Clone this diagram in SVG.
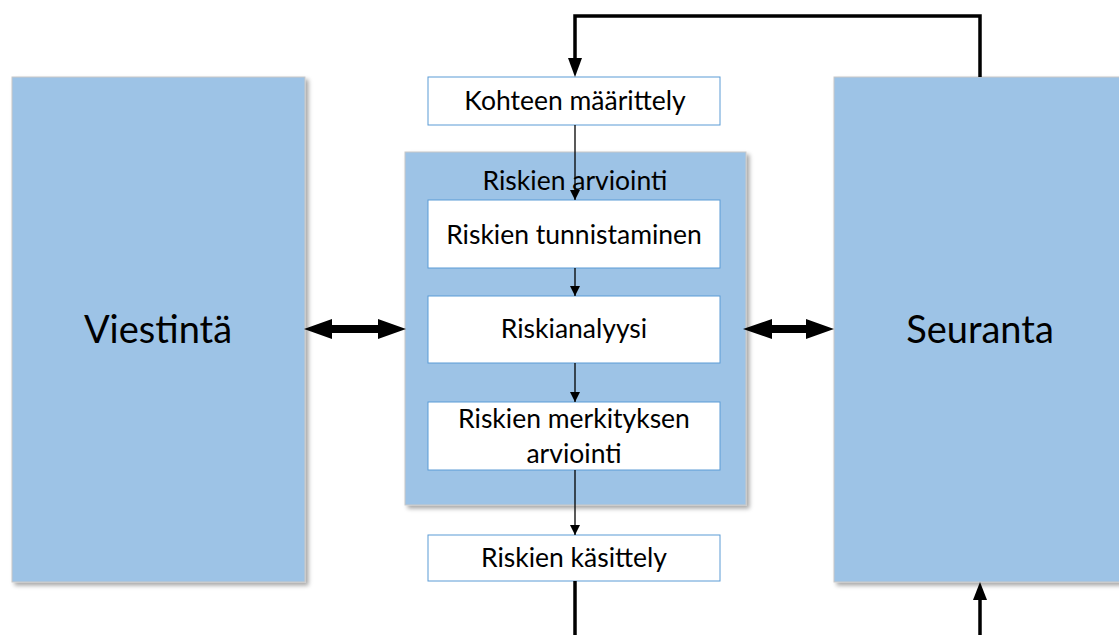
<svg xmlns="http://www.w3.org/2000/svg" width="1119" height="635" viewBox="0 0 1119 635">
<style>
.big{fill:#9DC3E6;stroke:#C8C8C8;stroke-width:1}
.wbox{fill:#FFFFFF;stroke:#5B9BD5;stroke-width:1}
.t{font-family:Lato,"Liberation Sans",sans-serif;fill:#000;text-anchor:middle}
.s{font-size:26.5px}
.l{font-size:38px}
.thin{stroke:#000;stroke-width:1.3;fill:none}
.thick{stroke:#000;stroke-width:3.5;fill:none}
</style>
<defs>
<filter id="sh" x="-10%" y="-10%" width="130%" height="130%">
<feDropShadow dx="3" dy="3" stdDeviation="2" flood-color="#000" flood-opacity="0.35"/>
</filter>
<marker id="ah" markerWidth="12" markerHeight="12" refX="10" refY="5" orient="auto" markerUnits="userSpaceOnUse">
<path d="M0,0 L10,5 L0,10 z" fill="#000"/>
</marker>
</defs>
<rect width="1119" height="635" fill="#FFFFFF"/>

<g id="viestinta">
<rect class="big" x="12" y="77" width="293" height="505" filter="url(#sh)"/>
<text class="t l" x="158" y="343">Viestintä</text>
</g>

<g id="seuranta">
<rect class="big" x="834" y="77" width="300" height="505" filter="url(#sh)"/>
<text class="t l" x="980" y="343">Seuranta</text>
</g>

<g id="riskien-arviointi">
<rect class="big" x="405" y="152" width="341" height="353" stroke="#B0B0B0" filter="url(#sh)"/>
<text class="t s" x="575" y="190">Riskien arviointi</text>
</g>

<g id="kohteen-maarittely">
<rect class="wbox" x="428" y="77" width="292" height="48"/>
<text class="t s" x="575" y="110">Kohteen määrittely</text>
</g>

<g id="riskien-tunnistaminen">
<rect class="wbox" x="428" y="200" width="292" height="68"/>
<text class="t s" x="574" y="244">Riskien tunnistaminen</text>
</g>

<g id="riskianalyysi">
<rect class="wbox" x="428" y="296" width="292" height="67"/>
<text class="t s" x="574" y="338">Riskianalyysi</text>
</g>

<g id="riskien-merkityksen-arviointi">
<rect class="wbox" x="428" y="402" width="292" height="68"/>
<text class="t s" x="574" y="428">Riskien merkityksen</text>
<text class="t s" x="574" y="463">arviointi</text>
</g>

<g id="riskien-kasittely">
<rect class="wbox" x="428" y="535" width="292" height="46"/>
<text class="t s" x="574" y="567">Riskien käsittely</text>
</g>

<g id="connectors">
<path class="thick" d="M980,77 L980,16 L575,16 L575,60"/>
<path d="M568,58 L575,77 L582,58 z" fill="#000"/>
<path class="thin" d="M575,125 L575,200" marker-end="url(#ah)"/>
<path class="thin" d="M575,268 L575,296" marker-end="url(#ah)"/>
<path class="thin" d="M575,363 L575,402" marker-end="url(#ah)"/>
<path class="thin" d="M575,470 L575,535" stroke-width="2" marker-end="url(#ah)"/>
<path class="thick" d="M575,581 L575,635"/>
<path class="thick" d="M980,635 L980,598"/>
<path d="M973,600 L980,582 L987,600 z" fill="#000"/>
<path d="M304,329 L332,319 L332,325 L378,325 L378,319 L406,329 L378,339 L378,333 L332,333 L332,339 z" fill="#000"/>
<path d="M743,329 L772,319 L772,325 L806,325 L806,319 L834,329 L806,339 L806,333 L772,333 L772,339 z" fill="#000"/>
</g>
</svg>
